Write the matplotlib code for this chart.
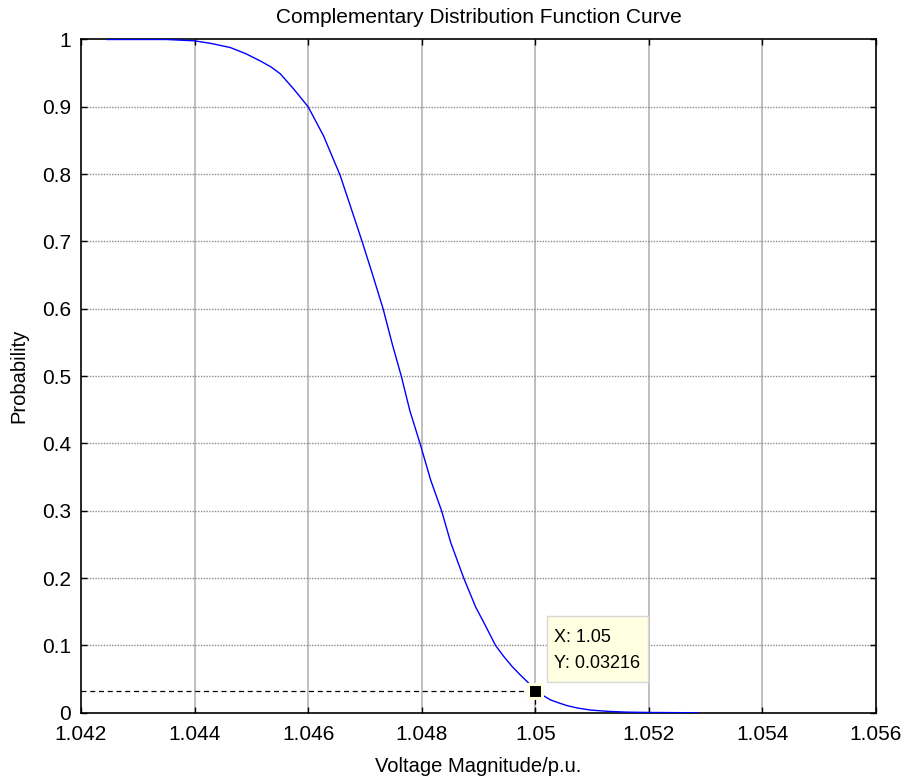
import matplotlib
matplotlib.use("Agg")
import matplotlib.pyplot as plt
from matplotlib.patches import Rectangle
from matplotlib.transforms import IdentityTransform

plt.rcParams['font.family'] = ['Liberation Sans', 'DejaVu Sans']

volt = [1.04246, 1.0435, 1.0440, 1.0443, 1.04463, 1.0449, 1.04516, 1.04535,
        1.04551, 1.04575, 1.0460, 1.04627, 1.04656, 1.04675, 1.04695, 1.04713,
        1.04732, 1.04748, 1.04764, 1.04779, 1.04797, 1.04816, 1.04835, 1.04851,
        1.04874, 1.04895, 1.0491, 1.0493, 1.04945, 1.0496, 1.04975, 1.04989,
        1.0500, 1.05015, 1.05027, 1.05042, 1.05057, 1.05075, 1.05098, 1.05127,
        1.0516, 1.0520, 1.05286]
prob = [1.0, 1.0, 0.998, 0.994, 0.988, 0.979, 0.968, 0.959,
        0.949, 0.926, 0.900, 0.857, 0.799, 0.751, 0.700, 0.652,
        0.600, 0.548, 0.500, 0.449, 0.400, 0.345, 0.300, 0.253,
        0.200, 0.157, 0.133, 0.100, 0.083, 0.068, 0.055, 0.0436,
        0.03216, 0.025, 0.019, 0.0145, 0.0104, 0.007, 0.004, 0.0022,
        0.001, 0.0005, 0.0]

tip_x = 1.05
tip_y = 0.03216

xticks = [1.042, 1.044, 1.046, 1.048, 1.05, 1.052, 1.054, 1.056]
xtick_labels = ['1.042', '1.044', '1.046', '1.048', '1.05', '1.052', '1.054', '1.056']
yticks = [0, 0.1, 0.2, 0.3, 0.4, 0.5, 0.6, 0.7, 0.8, 0.9, 1]
ytick_labels = ['0', '0.1', '0.2', '0.3', '0.4', '0.5', '0.6', '0.7', '0.8', '0.9', '1']

fig = plt.figure(figsize=(9.05, 7.82), dpi=100)
ax = fig.add_axes([0.0895, 0.0885, 0.8785, 0.861])

ax.plot(volt, prob, color='#0000ff', lw=1.0, zorder=3)

ax.set_xlim(1.042, 1.056)
ax.set_ylim(0, 1)
ax.set_xticks(xticks)
ax.set_xticklabels(xtick_labels)
ax.set_yticks(yticks)
ax.set_yticklabels(ytick_labels)

# matlab-like grid: vertical light, horizontal dotted
for x in xticks[1:-1]:
    ax.axvline(x, color='#b4b4b4', lw=1.2, zorder=1)
for y in yticks[1:-1]:
    ax.axhline(y, color='#8c8c8c', lw=1.0, ls=(0, (1, 1)), zorder=1)

ax.tick_params(direction='in', length=4, width=1, top=True, right=True,
               labelsize=15)
ax.tick_params(axis='x', pad=9)
ax.tick_params(axis='y', pad=7)
for s in ax.spines.values():
    s.set_linewidth(1.2)

# data tip
ax.plot([1.042, tip_x], [tip_y, tip_y], color='black', lw=0.9, ls=(0, (4, 3)), zorder=4)
ax.plot([tip_x, tip_x], [0, tip_y], color='black', lw=0.9, ls=(0, (4, 3)), zorder=4)
ax.plot([tip_x], [tip_y], marker='s', ms=9.5, color='black', mec='#ffffe1', mew=2.2, zorder=6)

# datatip box, placed in pixels relative to the marker
px, py = ax.transData.transform((tip_x, tip_y))
box = Rectangle((px + 12, py + 9), 101, 66, transform=IdentityTransform(),
                fc='#ffffe1', ec='#d8d8d8', lw=1, zorder=7)
ax.add_patch(box)
ax.annotate('X: 1.05\nY: 0.03216', xy=(tip_x, tip_y), xytext=(13.5, 13.5),
            textcoords='offset points', fontsize=13, linespacing=1.75,
            ha='left', va='bottom', zorder=8)

ax.set_title('Complementary Distribution Function Curve', fontsize=15, pad=12)
ax.set_xlabel('Voltage Magnitude/p.u.', fontsize=14.5, labelpad=9)
ax.set_ylabel('Probability', fontsize=14.5, labelpad=10)

fig.savefig('out.png', dpi=100)
